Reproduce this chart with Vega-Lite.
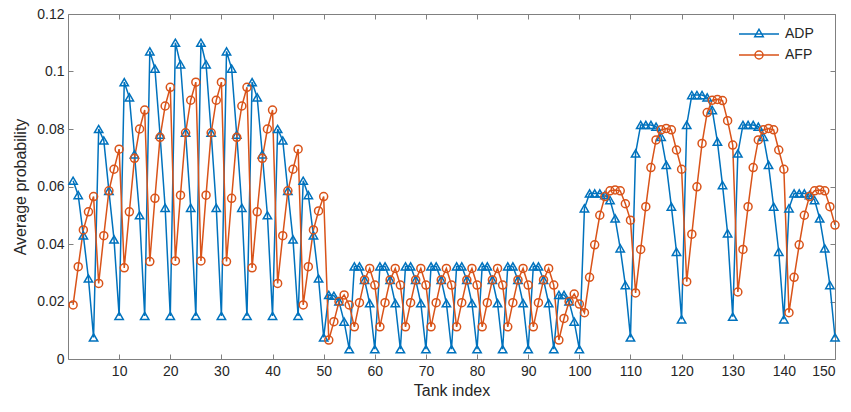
{
  "$schema": "https://vega.github.io/schema/vega-lite/v6.json",
  "width": 767,
  "height": 345,
  "autosize": {"type": "none"},
  "padding": {"left": 68, "top": 14, "right": 16, "bottom": 53},
  "background": "white",
  "config": {
    "font": "Liberation Sans",
    "view": {"stroke": "#808080", "strokeWidth": 1},
    "axis": {
      "grid": false,
      "domain": false,
      "tickColor": "#808080",
      "tickSize": -5,
      "tickWidth": 1,
      "labelColor": "#262626",
      "labelFontSize": 14,
      "titleColor": "#262626",
      "titleFontSize": 16,
      "titleFontWeight": "normal"
    }
  },
  "data": {"values": [
    {"i":1,"ADP":0.062,"AFP":0.0188},{"i":2,"ADP":0.057,"AFP":0.0321},{"i":3,"ADP":0.043,"AFP":0.0449},{"i":4,"ADP":0.028,"AFP":0.0512},{"i":5,"ADP":0.0075,"AFP":0.0565},
    {"i":6,"ADP":0.080,"AFP":0.0263},{"i":7,"ADP":0.076,"AFP":0.0429},{"i":8,"ADP":0.0585,"AFP":0.0585},{"i":9,"ADP":0.0416,"AFP":0.066},{"i":10,"ADP":0.015,"AFP":0.073},
    {"i":11,"ADP":0.0963,"AFP":0.0317},{"i":12,"ADP":0.091,"AFP":0.0512},{"i":13,"ADP":0.0712,"AFP":0.0698},{"i":14,"ADP":0.050,"AFP":0.080},{"i":15,"ADP":0.015,"AFP":0.0866},
    {"i":16,"ADP":0.107,"AFP":0.0339},{"i":17,"ADP":0.101,"AFP":0.0559},{"i":18,"ADP":0.078,"AFP":0.0771},{"i":19,"ADP":0.0526,"AFP":0.088},{"i":20,"ADP":0.015,"AFP":0.0945},
    {"i":21,"ADP":0.110,"AFP":0.0341},{"i":22,"ADP":0.1025,"AFP":0.057},{"i":23,"ADP":0.0787,"AFP":0.0787},{"i":24,"ADP":0.0526,"AFP":0.090},{"i":25,"ADP":0.015,"AFP":0.0963},
    {"i":26,"ADP":0.110,"AFP":0.0341},{"i":27,"ADP":0.1025,"AFP":0.057},{"i":28,"ADP":0.0787,"AFP":0.0787},{"i":29,"ADP":0.0526,"AFP":0.090},{"i":30,"ADP":0.015,"AFP":0.0963},
    {"i":31,"ADP":0.107,"AFP":0.0339},{"i":32,"ADP":0.101,"AFP":0.0559},{"i":33,"ADP":0.078,"AFP":0.0771},{"i":34,"ADP":0.0526,"AFP":0.088},{"i":35,"ADP":0.015,"AFP":0.0945},
    {"i":36,"ADP":0.0963,"AFP":0.0317},{"i":37,"ADP":0.091,"AFP":0.0512},{"i":38,"ADP":0.0712,"AFP":0.0698},{"i":39,"ADP":0.050,"AFP":0.080},{"i":40,"ADP":0.015,"AFP":0.0866},
    {"i":41,"ADP":0.080,"AFP":0.0263},{"i":42,"ADP":0.076,"AFP":0.0429},{"i":43,"ADP":0.0585,"AFP":0.0585},{"i":44,"ADP":0.0416,"AFP":0.066},{"i":45,"ADP":0.015,"AFP":0.073},
    {"i":46,"ADP":0.062,"AFP":0.0188},{"i":47,"ADP":0.057,"AFP":0.0321},{"i":48,"ADP":0.043,"AFP":0.0449},{"i":49,"ADP":0.028,"AFP":0.0515},{"i":50,"ADP":0.0075,"AFP":0.0565},
    {"i":51,"ADP":0.0223,"AFP":0.0066},{"i":52,"ADP":0.022,"AFP":0.013},{"i":53,"ADP":0.020,"AFP":0.020},{"i":54,"ADP":0.013,"AFP":0.0223},{"i":55,"ADP":0.0034,"AFP":0.0188},
    {"i":56,"ADP":0.0322,"AFP":0.0112},{"i":57,"ADP":0.0322,"AFP":0.0196},{"i":58,"ADP":0.0275,"AFP":0.0275},{"i":59,"ADP":0.0194,"AFP":0.0315},{"i":60,"ADP":0.0034,"AFP":0.0257},
    {"i":61,"ADP":0.0322,"AFP":0.0112},{"i":62,"ADP":0.0322,"AFP":0.0196},{"i":63,"ADP":0.0275,"AFP":0.0275},{"i":64,"ADP":0.0194,"AFP":0.0315},{"i":65,"ADP":0.0034,"AFP":0.0257},
    {"i":66,"ADP":0.0322,"AFP":0.0112},{"i":67,"ADP":0.0322,"AFP":0.0196},{"i":68,"ADP":0.0275,"AFP":0.0275},{"i":69,"ADP":0.0194,"AFP":0.0315},{"i":70,"ADP":0.0034,"AFP":0.0257},
    {"i":71,"ADP":0.0322,"AFP":0.0112},{"i":72,"ADP":0.0322,"AFP":0.0196},{"i":73,"ADP":0.0275,"AFP":0.0275},{"i":74,"ADP":0.0194,"AFP":0.0315},{"i":75,"ADP":0.0034,"AFP":0.0257},
    {"i":76,"ADP":0.0322,"AFP":0.0112},{"i":77,"ADP":0.0322,"AFP":0.0196},{"i":78,"ADP":0.0275,"AFP":0.0275},{"i":79,"ADP":0.0194,"AFP":0.0315},{"i":80,"ADP":0.0034,"AFP":0.0257},
    {"i":81,"ADP":0.0322,"AFP":0.0112},{"i":82,"ADP":0.0322,"AFP":0.0196},{"i":83,"ADP":0.0275,"AFP":0.0275},{"i":84,"ADP":0.0194,"AFP":0.0315},{"i":85,"ADP":0.0034,"AFP":0.0257},
    {"i":86,"ADP":0.0322,"AFP":0.0112},{"i":87,"ADP":0.0322,"AFP":0.0196},{"i":88,"ADP":0.0275,"AFP":0.0275},{"i":89,"ADP":0.0194,"AFP":0.0315},{"i":90,"ADP":0.0034,"AFP":0.0257},
    {"i":91,"ADP":0.0322,"AFP":0.0112},{"i":92,"ADP":0.0322,"AFP":0.0196},{"i":93,"ADP":0.0275,"AFP":0.0275},{"i":94,"ADP":0.0194,"AFP":0.0315},{"i":95,"ADP":0.0034,"AFP":0.0257},
    {"i":96,"ADP":0.0223,"AFP":0.0066},{"i":97,"ADP":0.0223,"AFP":0.0141},{"i":98,"ADP":0.020,"AFP":0.020},{"i":99,"ADP":0.013,"AFP":0.0226},{"i":100,"ADP":0.0034,"AFP":0.0191},
    {"i":101,"ADP":0.0524,"AFP":0.0161},{"i":102,"ADP":0.0576,"AFP":0.0284},{"i":103,"ADP":0.0576,"AFP":0.0397},{"i":104,"ADP":0.0576,"AFP":0.050},{"i":105,"ADP":0.057,"AFP":0.0565},
    {"i":106,"ADP":0.0553,"AFP":0.0585},{"i":107,"ADP":0.0489,"AFP":0.0588},{"i":108,"ADP":0.0385,"AFP":0.0585},{"i":109,"ADP":0.0257,"AFP":0.054},{"i":110,"ADP":0.0075,"AFP":0.0483},
    {"i":111,"ADP":0.0715,"AFP":0.023},{"i":112,"ADP":0.0814,"AFP":0.0381},{"i":113,"ADP":0.0814,"AFP":0.053},{"i":114,"ADP":0.0814,"AFP":0.0666},{"i":115,"ADP":0.0808,"AFP":0.0762},
    {"i":116,"ADP":0.0773,"AFP":0.0797},{"i":117,"ADP":0.0675,"AFP":0.0802},{"i":118,"ADP":0.053,"AFP":0.0797},{"i":119,"ADP":0.0373,"AFP":0.0727},{"i":120,"ADP":0.0138,"AFP":0.066},
    {"i":121,"ADP":0.0814,"AFP":0.0269},{"i":122,"ADP":0.0918,"AFP":0.0434},{"i":123,"ADP":0.0918,"AFP":0.0599},{"i":124,"ADP":0.0918,"AFP":0.075},{"i":125,"ADP":0.091,"AFP":0.0857},
    {"i":126,"ADP":0.0866,"AFP":0.090},{"i":127,"ADP":0.0756,"AFP":0.0903},{"i":128,"ADP":0.0605,"AFP":0.0899},{"i":129,"ADP":0.0437,"AFP":0.0829},{"i":130,"ADP":0.0147,"AFP":0.0744},
    {"i":131,"ADP":0.0715,"AFP":0.0233},{"i":132,"ADP":0.0814,"AFP":0.0381},{"i":133,"ADP":0.0814,"AFP":0.053},{"i":134,"ADP":0.0814,"AFP":0.0666},{"i":135,"ADP":0.0808,"AFP":0.0762},
    {"i":136,"ADP":0.0773,"AFP":0.0797},{"i":137,"ADP":0.0675,"AFP":0.0802},{"i":138,"ADP":0.053,"AFP":0.0797},{"i":139,"ADP":0.0373,"AFP":0.0727},{"i":140,"ADP":0.0138,"AFP":0.066},
    {"i":141,"ADP":0.0524,"AFP":0.0161},{"i":142,"ADP":0.0576,"AFP":0.0284},{"i":143,"ADP":0.0576,"AFP":0.0397},{"i":144,"ADP":0.0576,"AFP":0.050},{"i":145,"ADP":0.057,"AFP":0.0565},
    {"i":146,"ADP":0.0553,"AFP":0.0585},{"i":147,"ADP":0.0489,"AFP":0.0588},{"i":148,"ADP":0.0385,"AFP":0.0585},{"i":149,"ADP":0.0257,"AFP":0.053},{"i":150,"ADP":0.0075,"AFP":0.0466}
  ]},
  "transform": [{"fold": ["ADP", "AFP"], "as": ["series", "p"]}],
  "layer": [
    {
      "mark": {"type": "line", "strokeWidth": 1.5, "clip": true},
      "encoding": {
        "x": {"field": "i", "type": "quantitative", "scale": {"domain": [0, 150], "nice": false},
              "axis": {"values": [10,20,30,40,50,60,70,80,90,100,110,120,130,140,150], "title": "Tank index", "labelPadding": 10, "titlePadding": 4}},
        "y": {"field": "p", "type": "quantitative", "scale": {"domain": [0, 0.12], "nice": false},
              "axis": {"values": [0,0.02,0.04,0.06,0.08,0.1,0.12], "format": ".2~f", "title": "Average probability", "labelPadding": 9, "titlePadding": 8}},
        "color": {"field": "series", "type": "nominal",
                  "scale": {"domain": ["ADP", "AFP"], "range": ["#0072BD", "#D95319"]},
                  "legend": {
                    "orient": "none", "legendX": 684, "legendY": 13, "title": null,
                    "symbolType": "M-4,0L4,0", "symbolSize": 100, "symbolStrokeWidth": 1.5,
                    "labelFontSize": 14, "labelColor": "#262626", "labelOffset": 19,
                    "rowPadding": 7, "padding": 0,
                    "encode": {"symbols": {"update": {
                      "shape": {"signal": "datum.value === 'ADP' ? 'M-4,0L4,0M0,-0.95L0.85,0.55L-0.85,0.55Z' : 'M-4,0L4,0M0.8,0A0.8,0.8,0,1,1,-0.8,0A0.8,0.8,0,1,1,0.8,0'"},
                      "fill": {"value": "transparent"}
                    }}}
                  }}
      }
    },
    {
      "transform": [{"filter": "datum.series === 'ADP'"}],
      "mark": {"type": "point", "shape": "triangle-up", "filled": false, "strokeWidth": 1.5, "size": 70, "opacity": 1},
      "encoding": {
        "x": {"field": "i", "type": "quantitative", "axis": null},
        "y": {"field": "p", "type": "quantitative", "axis": null},
        "color": {"field": "series", "type": "nominal", "legend": null}
      }
    },
    {
      "transform": [{"filter": "datum.series === 'AFP'"}],
      "mark": {"type": "point", "shape": "circle", "filled": false, "strokeWidth": 1.5, "size": 64, "opacity": 1},
      "encoding": {
        "x": {"field": "i", "type": "quantitative", "axis": null},
        "y": {"field": "p", "type": "quantitative", "axis": null},
        "color": {"field": "series", "type": "nominal", "legend": null}
      }
    },
    {
      "mark": {"type": "point", "opacity": 0},
      "encoding": {
        "x": {"field": "i", "type": "quantitative",
              "axis": {"orient": "top", "values": [10,20,30,40,50,60,70,80,90,100,110,120,130,140,150], "labels": false, "title": null}},
        "y": {"field": "p", "type": "quantitative",
              "axis": {"orient": "right", "values": [0,0.02,0.04,0.06,0.08,0.1,0.12], "labels": false, "title": null}}
      }
    }
  ],
  "resolve": {"axis": {"x": "independent", "y": "independent"}}
}
